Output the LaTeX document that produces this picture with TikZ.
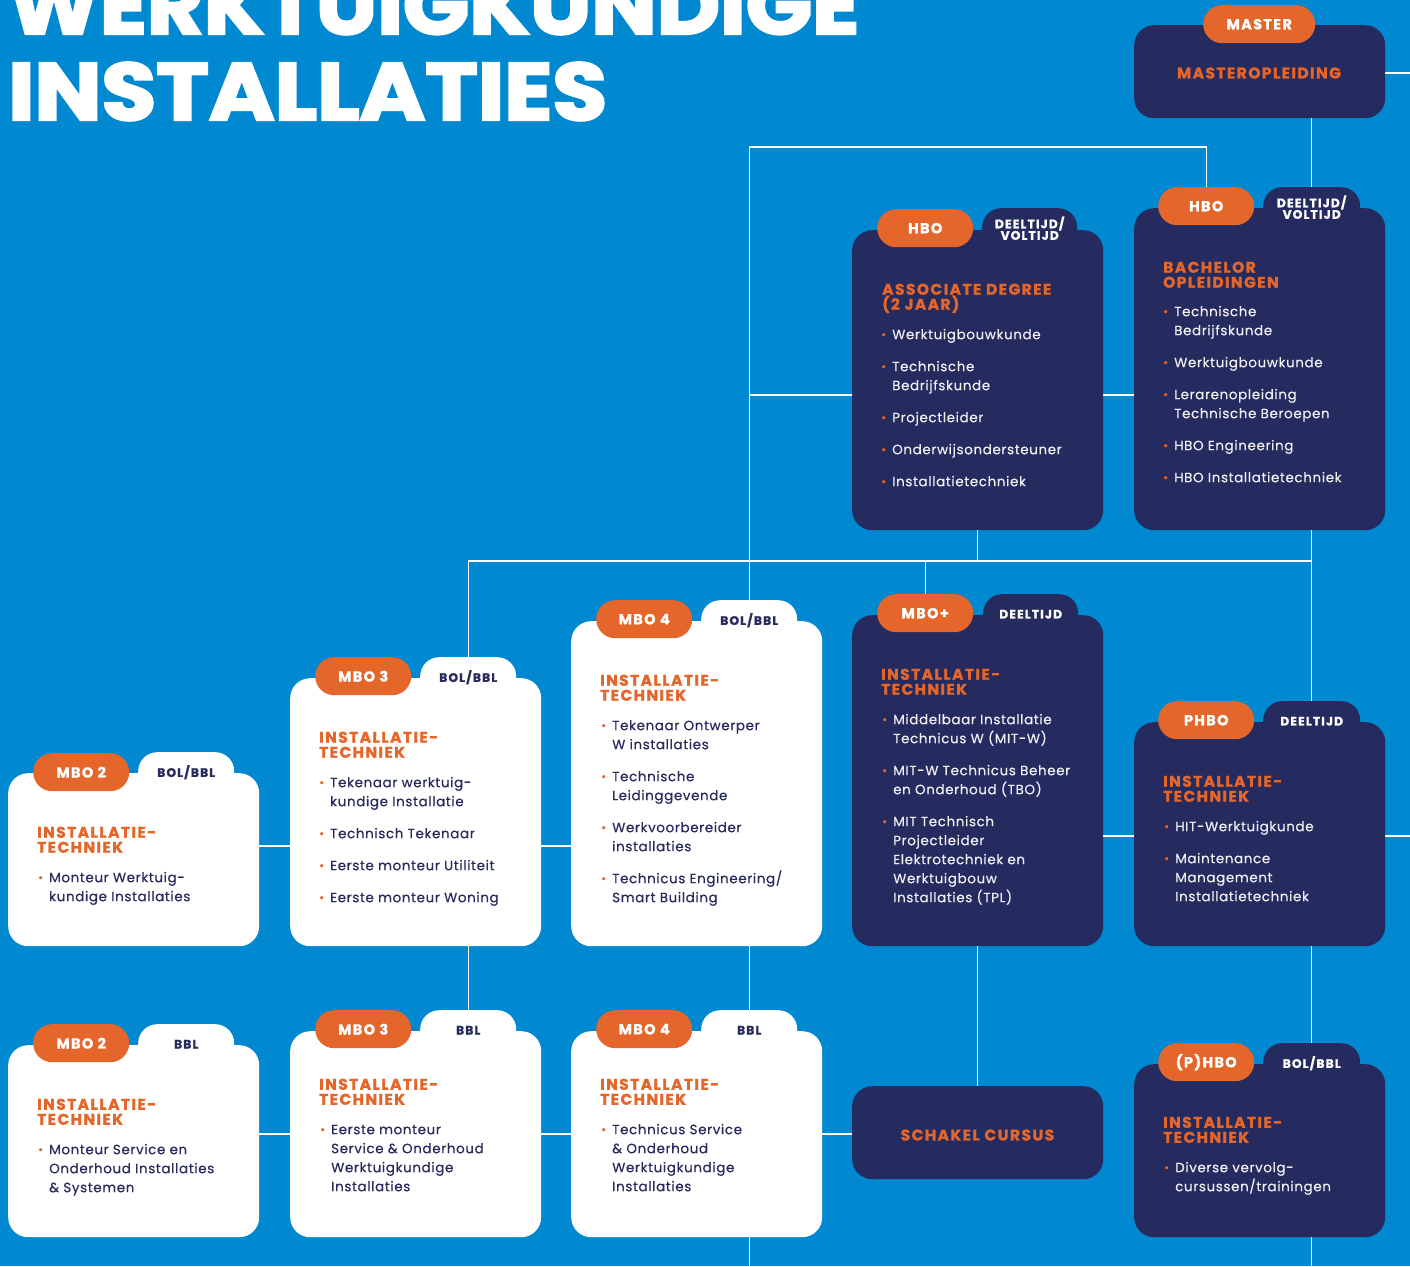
\documentclass[tikz,border=0pt]{standalone}
\usepackage{fontspec}
\setmainfont{Poppins}
\newfontfamily\bodyf{Poppins}[LetterSpace=4.5,FakeBold=0.35]
\newfontfamily\headf{Poppins}[LetterSpace=9,BoldFeatures={FakeBold=1.2}]
\newfontfamily\titlef{Poppins}[BoldFeatures={FakeBold=3}]
\definecolor{bgblue}{HTML}{0088D1}
\definecolor{navy}{HTML}{252A5F}
\definecolor{orng}{HTML}{E4662A}
\definecolor{navytxt}{HTML}{272B5E}
\definecolor{ltxt}{HTML}{EEEEF3}
\pgfdeclarelayer{bg}
\pgfsetlayers{bg,main}
\newcommand\bul{\makebox[11pt][l]{\textcolor{orng}{\raisebox{0.5pt}{\fontsize{12}{12}\selectfont•}}}}
\newcommand\ind{\hspace*{11pt}}
\newcommand\fl{\rule{0pt}{12pt}}
\newcommand\fh{\rule{0pt}{11pt}}
\tikzset{
 body/.style={rounded corners=20pt, minimum width=251pt, anchor=north west, inner sep=0pt},
 navybody/.style={body, fill=navy},
 whitebody/.style={body, fill=white},
 otab/.style={fill=orng, rounded corners=19pt, minimum width=96pt, minimum height=38pt, anchor=north west, inner sep=0pt, text=white, font=\headf\bfseries\fontsize{14.5}{15}\selectfont},
 rtab/.style={rounded corners=19pt, minimum width=96pt, minimum height=40pt, anchor=north west, inner sep=0pt, align=center, font=\headf\bfseries\fontsize{12.3}{11.5}\selectfont},
 navyrtab/.style={rtab, fill=navy, text=white},
 whitertab/.style={rtab, fill=white, text=navytxt},
 conn/.style={draw=white, line width=1.4pt},
 head/.style={anchor=north west, inner sep=0pt, align=left, text=orng, font=\headf\bfseries\fontsize{15.5}{15}\selectfont},
 blist/.style={anchor=north west, inner sep=0pt, align=left, font=\bodyf\fontsize{13.5}{19}\selectfont},
 navylist/.style={blist, text=ltxt},
 whitelist/.style={blist, text=navytxt},
 ctitle/.style={anchor=base west, inner sep=0pt, text=white, font=\titlef\bfseries\fontsize{81}{86}\selectfont},
}
\begin{document}
\begin{tikzpicture}[x=1pt,y=-1pt]
\useasboundingbox (0,0) rectangle (1410,1266);
\begin{pgfonlayer}{bg}
\fill[bgblue] (0,0) rectangle (1410,1266);
\end{pgfonlayer}
% title
\node[ctitle] (title1) at (8,34) {\scalebox{1.075}[1]{WERKTUIGKUNDIGE}};
\node[ctitle] (title2) at (8,120) {\scalebox{1.1}[1]{INSTALLATIES}};
% master
\node[navybody, minimum height=93pt] (master) at (1134,25) {};
\node[otab, minimum width=112pt] (masterT) at (1203,5) {MASTER};
\node[head, anchor=center] (masterTxt) at (1259,73) {MASTEROPLEIDING};
% associate degree
\node[navybody, minimum height=300pt] (ad) at (852,230) {};
\node[navyrtab, minimum width=95pt] (adR) at (982,208) {DEELTIJD/\\VOLTIJD};
\node[otab] (adT) at (877,209) {HBO};
\node[head] (adH) at (882,283.5) {\fh ASSOCIATE DEGREE\\(2 JAAR)};
\node[navylist] (adL) at (881,327) {\fl\bul Werktuigbouwkunde\\[13pt]
\bul Technische\\ \ind Bedrijfskunde\\[13pt]
\bul Projectleider\\[13pt]
\bul Onderwijsondersteuner\\[13pt]
\bul Installatietechniek};
% bachelor
\node[navybody, minimum height=322pt] (bach) at (1134,208) {};
\node[navyrtab, minimum width=97pt] (bachR) at (1263,187) {DEELTIJD/\\VOLTIJD};
\node[otab] (bachT) at (1158,187) {HBO};
\node[head] (bachH) at (1163,261.5) {\fh BACHELOR\\OPLEIDINGEN};
\node[navylist] (bachL) at (1163,304) {\fl\bul Technische\\ \ind Bedrijfskunde\\[13pt]
\bul Werktuigbouwkunde\\[13pt]
\bul Lerarenopleiding\\ \ind Technische Beroepen\\[13pt]
\bul HBO Engineering\\[13pt]
\bul HBO Installatietechniek};
% mbo+
\node[navybody, minimum height=331pt] (mp) at (852,615) {};
\node[navyrtab, minimum width=95pt] (mpR) at (983,594) {DEELTIJD};
\node[otab] (mpT) at (877,594) {MBO+};
\node[head] (mpH) at (881,668.5) {\fh INSTALLATIE-\\TECHNIEK};
\node[navylist] (mpL) at (882,712) {\fl\bul Middelbaar Installatie\\ \ind Technicus W (MIT-W)\\[13pt]
\bul MIT-W Technicus Beheer\\ \ind en Onderhoud (TBO)\\[13pt]
\bul MIT Technisch\\ \ind Projectleider\\ \ind Elektrotechniek en\\ \ind Werktuigbouw\\ \ind Installaties (TPL)};
% phbo
\node[navybody, minimum height=224pt] (phbo) at (1134,722) {};
\node[navyrtab, minimum width=97pt] (phboR) at (1263,701) {DEELTIJD};
\node[otab] (phboT) at (1158,701) {PHBO};
\node[head] (phboH) at (1163,775.5) {\fh INSTALLATIE-\\TECHNIEK};
\node[navylist] (phboL) at (1164,819) {\fl\bul HIT-Werktuigkunde\\[13pt]
\bul Maintenance\\ \ind Management\\ \ind Installatietechniek};
% (p)hbo
\node[navybody, minimum height=173pt] (ph) at (1134,1064) {};
\node[navyrtab, minimum width=97pt] (phR) at (1263,1043) {BOL/BBL};
\node[otab] (phT) at (1158,1043) {(P)HBO};
\node[head] (phH) at (1163,1116.5) {\fh INSTALLATIE-\\TECHNIEK};
\node[navylist] (phL) at (1164,1160) {\fl\bul Diverse vervolg-\\ \ind cursussen/trainingen};
% schakel
\node[navybody, minimum height=93pt] (sch) at (852,1086) {};
\node[head, anchor=center] (schTxt) at (977.5,1135) {SCHAKEL CURSUS};
% mbo 2 top
\node[whitebody, minimum height=173pt] (m2) at (8,773) {};
\node[whitertab] (m2R) at (138,752) {BOL/BBL};
\node[otab] (m2T) at (33,753) {MBO 2};
\node[head] (m2H) at (37,826.5) {\fh INSTALLATIE-\\TECHNIEK};
\node[whitelist] (m2L) at (38,870) {\fl\bul Monteur Werktuig-\\ \ind kundige Installaties};
% mbo 3 top
\node[whitebody, minimum height=268pt] (m3) at (290,678) {};
\node[whitertab] (m3R) at (420,657) {BOL/BBL};
\node[otab] (m3T) at (315,657) {MBO 3};
\node[head] (m3H) at (319,731.5) {\fh INSTALLATIE-\\TECHNIEK};
\node[whitelist] (m3L) at (319,775) {\fl\bul Tekenaar werktuig-\\ \ind kundige Installatie\\[13pt]
\bul Technisch Tekenaar\\[13pt]
\bul Eerste monteur Utiliteit\\[13pt]
\bul Eerste monteur Woning};
% mbo 4 top
\node[whitebody, minimum height=325pt] (m4) at (571,621) {};
\node[whitertab] (m4R) at (701,600) {BOL/BBL};
\node[otab] (m4T) at (596,600) {MBO 4};
\node[head] (m4H) at (600,674.5) {\fh INSTALLATIE-\\TECHNIEK};
\node[whitelist] (m4L) at (601,718) {\fl\bul Tekenaar Ontwerper\\ \ind W installaties\\[13pt]
\bul Technische\\ \ind Leidinggevende\\[13pt]
\bul Werkvoorbereider\\ \ind installaties\\[13pt]
\bul Technicus Engineering/\\ \ind Smart Building};
% mbo 2 bottom
\node[whitebody, minimum height=192pt] (m2b) at (8,1045) {};
\node[whitertab] (m2bR) at (138,1024) {BBL};
\node[otab] (m2bT) at (33,1024) {MBO 2};
\node[head] (m2bH) at (37,1098.5) {\fh INSTALLATIE-\\TECHNIEK};
\node[whitelist] (m2bL) at (38,1142) {\fl\bul Monteur Service en\\ \ind Onderhoud Installaties\\ \ind \& Systemen};
% mbo 3 bottom
\node[whitebody, minimum height=206pt] (m3b) at (290,1031) {};
\node[whitertab] (m3bR) at (420,1010) {BBL};
\node[otab] (m3bT) at (315,1010) {MBO 3};
\node[head] (m3bH) at (319,1078.5) {\fh INSTALLATIE-\\TECHNIEK};
\node[whitelist] (m3bL) at (320,1122) {\fl\bul Eerste monteur\\ \ind Service \& Onderhoud\\ \ind Werktuigkundige\\ \ind Installaties};
% mbo 4 bottom
\node[whitebody, minimum height=206pt] (m4b) at (571,1031) {};
\node[whitertab] (m4bR) at (701,1010) {BBL};
\node[otab] (m4bT) at (596,1010) {MBO 4};
\node[head] (m4bH) at (600,1078.5) {\fh INSTALLATIE-\\TECHNIEK};
\node[whitelist] (m4bL) at (601,1122) {\fl\bul Technicus Service\\ \ind \& Onderhoud\\ \ind Werktuigkundige\\ \ind Installaties};
% connectors
\coordinate (edgeA) at (1410,73);
\coordinate (j395) at (750,395);
\coordinate (j561) at (0,561);
\coordinate (edgeB) at (1410,836);
\coordinate (j846) at (0,846);
\coordinate (j1134) at (0,1134);
\begin{pgfonlayer}{bg}
\draw[conn] (master.east |- edgeA) -- (edgeA);
\draw[conn] (master.south -| bachR.north) -- (bachR.north);
\draw[conn] (bachT.north) -- ++(0,-40) -| (m4R.north);
\draw[conn] (ad.west |- j395) -- (m4R.north |- j395);
\draw[conn] (ad.east |- j395) -- (bach.west |- j395);
\draw[conn] (ad.south) -- (ad.south |- j561);
\draw[conn] (m3R.north) |- (phboR.north |- j561);
\draw[conn] (bach.south -| phboR.north) -- (phboR.north);
\draw[conn] (mpT.north) -- (mpT.north |- j561);
\draw[conn] (mp.east |- edgeB) -- (phbo.west |- edgeB);
\draw[conn] (phbo.east |- edgeB) -- (edgeB);
\draw[conn] (mp.south) -- (sch.north);
\draw[conn] (phbo.south -| phR.north) -- (phR.north);
\draw[conn] (ph.south -| phR.north) -- ++(0,40);
\draw[conn] (m2.east |- j846) -- (m3.west |- j846);
\draw[conn] (m3.east |- j846) -- (m4.west |- j846);
\draw[conn] (m3.south -| m3bR.north) -- (m3bR.north);
\draw[conn] (m4.south -| m4bR.north) -- (m4bR.north);
\draw[conn] (m4b.south -| m4bR.north) -- ++(0,40);
\draw[conn] (m2b.east |- j1134) -- (m3b.west |- j1134);
\draw[conn] (m3b.east |- j1134) -- (m4b.west |- j1134);
\draw[conn] (m4b.east |- j1134) -- (sch.west |- j1134);
\end{pgfonlayer}
\end{tikzpicture}
\end{document}
